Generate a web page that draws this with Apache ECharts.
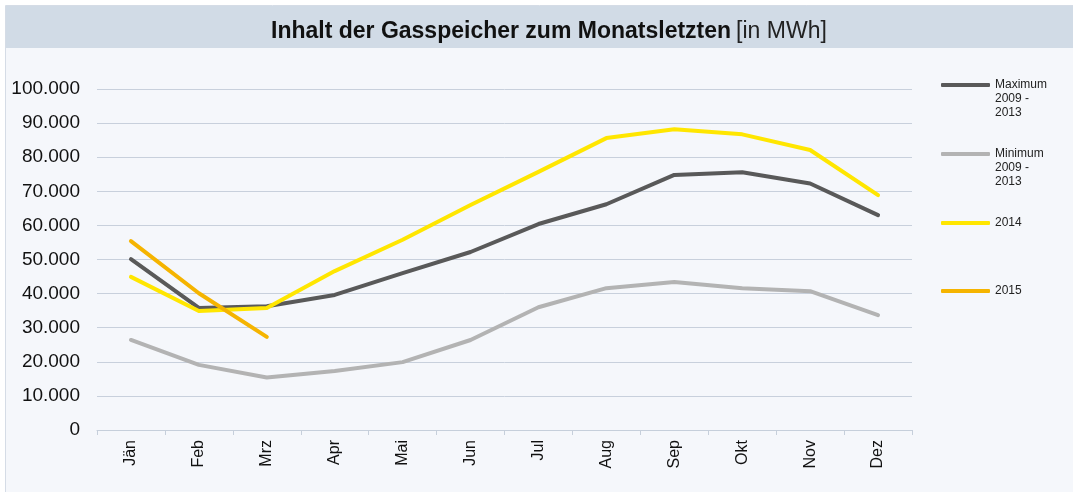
<!DOCTYPE html>
<html>
<head>
<meta charset="utf-8">
<script src="https://cdn.jsdelivr.net/npm/echarts@6/dist/echarts.min.js"></script>
<style>
  html, body { margin: 0; padding: 0; background: #fff; }
  #chart { width: 1073px; height: 492px; }
</style>
</head>
<body>
<div id="chart"></div>
<script>
// Monatsletzter Speicherinhalt in MWh
const months = ['Jän', 'Feb', 'Mrz', 'Apr', 'Mai', 'Jun', 'Jul', 'Aug', 'Sep', 'Okt', 'Nov', 'Dez']
const maxValues = [50100, 35800, 36300, 39600, 46000, 52200, 60400, 66200, 74800, 75600, 72300, 63000]
const minValues = [26400, 19100, 15400, 17300, 19900, 26400, 36000, 41600, 43400, 41600, 40700, 33700]
const values2014 = [44900, 34900, 35800, 46600, 55800, 66000, 75700, 85600, 88200, 86700, 82100, 68900]
const values2015 = [55400, 40100, 27300]

const seriesNames = ['Maximum 2009 - 2013', 'Minimum 2009 - 2013', '2014', '2015']
// leere Zeilen davor, damit die Linie auf Höhe der ersten Textzeile sitzt
const legendLabels = [' \n \nMaximum\n2009 -\n2013', ' \n \nMinimum\n2009 -\n2013', '2014', '2015']
const colors = ['#595959', '#b3b3b3', '#ffe600', '#f5b400']
const seriesData = [maxValues, minValues, values2014, values2015]

const font = '"Liberation Sans", Arial, sans-serif'
const chart = echarts.init(document.getElementById('chart'))

const legendCenters = [85, 154, 223, 291]
const legends = seriesNames.map((name, i) => {
  const multi = legendLabels[i].indexOf('\n') >= 0
  return {
    data: [name],
    left: 941,
    top: multi ? legendCenters[i] - 35 : legendCenters[i] - 7,
    padding: 0,
    icon: 'roundRect',
    itemWidth: 49,
    itemHeight: 4,
    selectedMode: false,
    formatter: () => legendLabels[i],
    textStyle: {
      fontFamily: font,
      fontSize: 12,
      lineHeight: 14,
      color: '#222'
    }
  }
})

const option = {
  animation: false,
  textStyle: { fontFamily: font },
  graphic: [
    {
      type: 'rect',
      silent: true,
      z: -10,
      shape: { x: 5.5, y: 5.5, width: 1070, height: 490 },
      style: { fill: '#f5f7fb', stroke: '#d5dce6', lineWidth: 1 }
    },
    {
      type: 'rect',
      silent: true,
      z: -9,
      shape: { x: 6, y: 6, width: 1067, height: 42 },
      style: { fill: '#d1dbe6' }
    }
  ],
  title: {
    left: 266,
    top: 15,
    text: '{b|Inhalt der Gasspeicher zum Monatsletzten} {n|[in MWh]}',
    textStyle: {
      rich: {
        b: { fontFamily: font, fontSize: 23, fontWeight: 'bold', color: '#111' },
        n: { fontFamily: font, fontSize: 23, fontWeight: 'normal', color: '#222' }
      }
    }
  },
  legend: legends,
  grid: {
    left: 97,
    right: 161,
    top: 89,
    bottom: 62,
    containLabel: false
  },
  xAxis: {
    type: 'category',
    data: months,
    boundaryGap: true,
    axisLine: { lineStyle: { color: '#c6cfdb', width: 1 } },
    axisTick: { show: true, length: 5, lineStyle: { color: '#c6cfdb' } },
    axisLabel: {
      rotate: 90,
      margin: 10,
      fontFamily: font,
      fontSize: 16,
      color: '#111'
    }
  },
  yAxis: {
    type: 'value',
    min: 0,
    max: 100000,
    interval: 10000,
    axisLine: { show: false },
    axisTick: { show: false },
    splitLine: { lineStyle: { color: '#c8d0dc', width: 1 } },
    axisLabel: {
      margin: 17,
      fontFamily: font,
      fontSize: 19,
      color: '#111',
      formatter: (v) => v === 0 ? '0' : String(v).replace(/\B(?=(\d{3})+(?!\d))/g, '.')
    }
  },
  series: seriesNames.map((name, i) => ({
    name: name,
    type: 'line',
    data: seriesData[i],
    showSymbol: false,
    symbol: 'none',
    color: colors[i],
    lineStyle: { color: colors[i], width: 4, cap: 'round', join: 'round' },
    z: 2 + i
  }))
}

chart.setOption(option)
</script>
</body>
</html>
